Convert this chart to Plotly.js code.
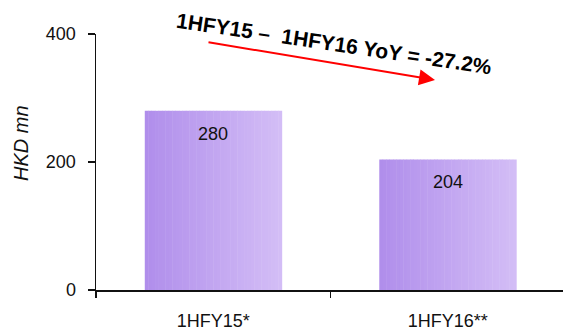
<!DOCTYPE html>
<html>
<head>
<meta charset="utf-8">
<script src="https://cdn.plot.ly/plotly-3.0.1.min.js"></script>
<style>
  html, body { margin: 0; padding: 0; background: #fff; }
  #chart { width: 563px; height: 335px; }
</style>
</head>
<body>
<div id="chart"></div>
<script>
// Half-year results, HKD millions
const categories = ['1HFY15*', '1HFY16**'];
const values = [280, 204];
const valueLabels = ['280', '204'];
const yTicks = [0, 200, 400];
const yTickLabels = ['0', '200', '400'];
const changeText = '1HFY15 \u2013  1HFY16 YoY = -27.2%';

const W = 563, H = 335;
const margin = { l: 96, r: 0, t: 34, b: 45 };
const plotW = W - margin.l - margin.r;
const plotH = H - margin.t - margin.b;
// pixel -> paper coordinates for the free-standing annotations
const px = x => (x - margin.l) / plotW;
const py = y => (H - margin.b - y) / plotH;

const FONT = 'Liberation Sans, Arial, sans-serif';

// Bars are drawn as thin vertical strips so the fill fades left to right
const BAR_W = 0.584;
const STRIPS = 40;
const cLeft = [176, 142, 235];
const cRight = [211, 189, 246];
const traces = [];
for (let i = 0; i < STRIPS; i++) {
  const t = i / (STRIPS - 1);
  const c = cLeft.map((v, k) => Math.round(v + (cRight[k] - v) * t));
  traces.push({
    type: 'bar',
    x: categories,
    y: values,
    width: BAR_W / STRIPS + 0.002,
    offset: -BAR_W / 2 + i * BAR_W / STRIPS,
    marker: { color: `rgb(${c.join(',')})`, line: { width: 0 } },
    hoverinfo: 'skip',
    showlegend: false
  });
}

const annotations = [];
categories.forEach((cat, i) => {
  annotations.push({
    x: cat, y: values[i], xref: 'x', yref: 'y',
    text: valueLabels[i], showarrow: false,
    yanchor: 'middle', yshift: -23,
    font: { family: FONT, size: 18, color: '#111' }
  });
});

// y-axis title
annotations.push({
  x: px(21), y: py(143), xref: 'paper', yref: 'paper',
  text: '<i>HKD mn</i>', textangle: -90, showarrow: false,
  xanchor: 'center', yanchor: 'middle',
  font: { family: FONT, size: 20, color: '#111' }
});

// year-on-year arrow
annotations.push({
  x: px(435), y: py(80), xref: 'paper', yref: 'paper',
  ax: px(207), ay: py(42), axref: 'paper', ayref: 'paper',
  text: '', showarrow: true,
  arrowhead: 2, arrowsize: 1.6, arrowwidth: 2, arrowcolor: '#ff0000',
  standoff: 0, startstandoff: 0
});

// year-on-year caption
annotations.push({
  x: px(334), y: py(43), xref: 'paper', yref: 'paper',
  text: '<b>' + changeText + '</b>', textangle: 8.5, showarrow: false,
  xanchor: 'center', yanchor: 'middle',
  font: { family: FONT, size: 21, color: '#000' }
});

const layout = {
  width: W, height: H,
  margin: margin,
  paper_bgcolor: '#fff', plot_bgcolor: '#fff',
  barmode: 'overlay',
  showlegend: false,
  font: { family: FONT, size: 18, color: '#111' },
  xaxis: {
    type: 'category',
    range: [-0.5, -0.5 + plotW / 234.5],
    showline: true, linecolor: '#111', linewidth: 1.5,
    ticks: 'outside', tickson: 'boundaries', ticklen: 6, tickwidth: 1.5, tickcolor: '#111',
    ticklabelstandoff: 14,
    tickfont: { family: FONT, size: 18, color: '#111' },
    showgrid: false, zeroline: false, fixedrange: true
  },
  yaxis: {
    range: [0, 400],
    tickvals: yTicks, ticktext: yTickLabels,
    showline: true, linecolor: '#111', linewidth: 1.5,
    ticks: 'outside', ticklen: 7, tickwidth: 1.5, tickcolor: '#111',
    ticklabelstandoff: 8,
    tickfont: { family: FONT, size: 18, color: '#111' },
    showgrid: false, zeroline: false, fixedrange: true
  },
  annotations: annotations
};

Plotly.newPlot('chart', traces, layout, { staticPlot: true, displayModeBar: false });
</script>
</body>
</html>
